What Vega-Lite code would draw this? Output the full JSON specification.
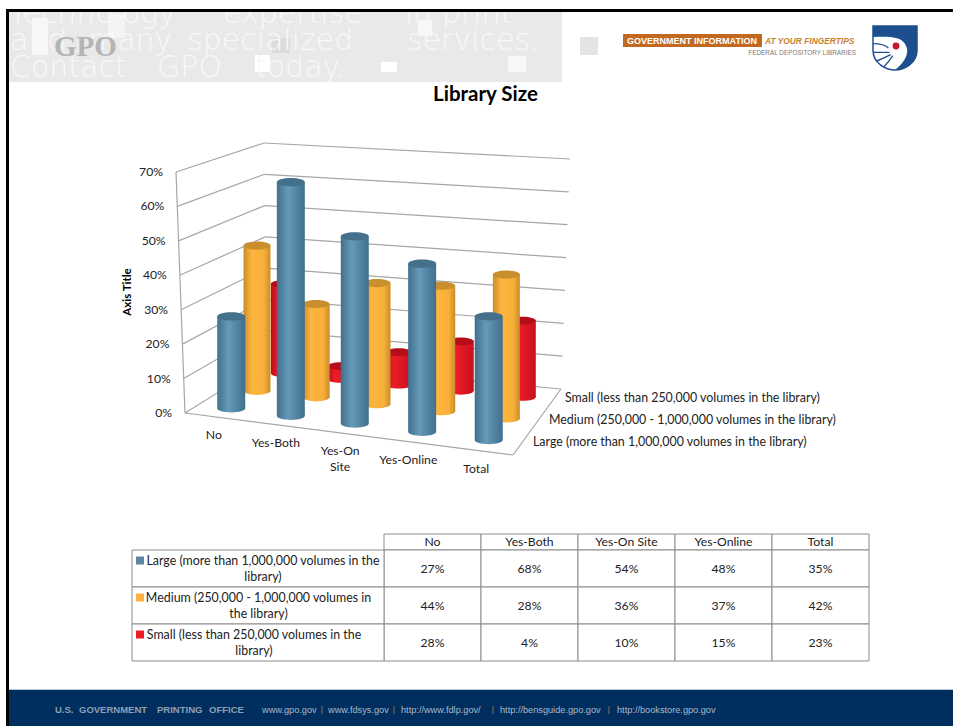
{
"$schema":"https://vega.github.io/schema/vega-lite/v6.json",
"width":953,"height":726,"padding":0,"autosize":{"type":"none"},"background":"white",
"config":{"view":{"stroke":null},"axis":{"disable":true},"legend":{"disable":true},"text":{"font":"Lato","fontSize":12.2,"fill":"#222222"}},
"title":{"text":"Library Size","font":"Lato","fontSize":20.5,"fontWeight":"bold","color":"#000000","anchor":"middle","frame":"group","dx":9,"dy":106,"offset":0},
"datasets":{
"bars":[
{"category":"No","series":"Large","value":0.27},{"category":"Yes-Both","series":"Large","value":0.68},{"category":"Yes-On Site","series":"Large","value":0.54},{"category":"Yes-Online","series":"Large","value":0.48},{"category":"Total","series":"Large","value":0.35},
{"category":"No","series":"Medium","value":0.44},{"category":"Yes-Both","series":"Medium","value":0.28},{"category":"Yes-On Site","series":"Medium","value":0.36},{"category":"Yes-Online","series":"Medium","value":0.37},{"category":"Total","series":"Medium","value":0.42},
{"category":"No","series":"Small","value":0.28},{"category":"Yes-Both","series":"Small","value":0.04},{"category":"Yes-On Site","series":"Small","value":0.10},{"category":"Yes-Online","series":"Small","value":0.15},{"category":"Total","series":"Small","value":0.23}],
"cats":[{"category":"No","label":"No"},{"category":"Yes-Both","label":"Yes-Both"},{"category":"Yes-On Site","label":"Yes-On\nSite"},{"category":"Yes-Online","label":"Yes-Online"},{"category":"Total","label":"Total"}],
"names":[{"series":"Large","name":"Large (more than 1,000,000 volumes in the library)","wrapped":"Large (more than 1,000,000 volumes in the\nlibrary)"},{"series":"Medium","name":"Medium (250,000 - 1,000,000 volumes in the library)","wrapped":"Medium (250,000 - 1,000,000 volumes in\nthe library)"},{"series":"Small","name":"Small (less than 250,000 volumes in the library)","wrapped":"Small (less than 250,000 volumes in the\nlibrary)"}],
"ticks":[{"tick":0},{"tick":0.1},{"tick":0.2},{"tick":0.3},{"tick":0.4},{"tick":0.5},{"tick":0.6},{"tick":0.7}]
},
"resolve":{"scale":{"x":"independent","y":"independent","color":"independent"}},
"layer":[
{"data":{"values":[{"item":"decor"}]},"layer":[
{"mark":{"type":"rect","fill":"#e9e9ea"},"encoding":{"x":{"datum":9,"type":"quantitative","scale":{"domain":[0,953],"nice":false,"zero":false}},"x2":{"datum":562},"y":{"datum":10,"type":"quantitative","scale":{"domain":[0,726],"reverse":true,"nice":false,"zero":false}},"y2":{"datum":82}}},
{"mark":{"type":"rect","fill":"#e4e4e5"},"encoding":{"x":{"datum":580,"type":"quantitative"},"x2":{"datum":598},"y":{"datum":37,"type":"quantitative"},"y2":{"datum":55}}},
{"mark":{"type":"rect","fill":"#f7f7f7"},"encoding":{"x":{"datum":32,"type":"quantitative"},"x2":{"datum":48},"y":{"datum":18,"type":"quantitative"},"y2":{"datum":55}}},
{"mark":{"type":"rect","fill":"#f4f4f4"},"encoding":{"x":{"datum":108,"type":"quantitative"},"x2":{"datum":125},"y":{"datum":14,"type":"quantitative"},"y2":{"datum":38}}},
{"mark":{"type":"rect","fill":"#dcdcdd"},"encoding":{"x":{"datum":272,"type":"quantitative"},"x2":{"datum":290},"y":{"datum":38,"type":"quantitative"},"y2":{"datum":53}}},
{"mark":{"type":"rect","fill":"#ffffff"},"encoding":{"x":{"datum":255,"type":"quantitative"},"x2":{"datum":270},"y":{"datum":55,"type":"quantitative"},"y2":{"datum":72}}},
{"mark":{"type":"rect","fill":"#ffffff"},"encoding":{"x":{"datum":381,"type":"quantitative"},"x2":{"datum":397},"y":{"datum":62,"type":"quantitative"},"y2":{"datum":72}}},
{"mark":{"type":"rect","fill":"#f7f7f7"},"encoding":{"x":{"datum":418,"type":"quantitative"},"x2":{"datum":432},"y":{"datum":20,"type":"quantitative"},"y2":{"datum":36}}},
{"mark":{"type":"rect","fill":"#f7f7f7"},"encoding":{"x":{"datum":508,"type":"quantitative"},"x2":{"datum":526},"y":{"datum":56,"type":"quantitative"},"y2":{"datum":72}}},
{"mark":{"type":"text","text":"Technology","font":"DejaVu Sans","fontSize":30,"fontWeight":200,"fill":"#f8f8f8","align":"left","baseline":"alphabetic"},"encoding":{"x":{"datum":9,"type":"quantitative"},"y":{"datum":23,"type":"quantitative"}}},
{"mark":{"type":"text","text":"expertise","font":"DejaVu Sans","fontSize":30,"fontWeight":200,"fill":"#f8f8f8","align":"left","baseline":"alphabetic"},"encoding":{"x":{"datum":223,"type":"quantitative"},"y":{"datum":23,"type":"quantitative"}}},
{"mark":{"type":"text","text":"in print","font":"DejaVu Sans","fontSize":30,"fontWeight":200,"fill":"#f8f8f8","align":"left","baseline":"alphabetic"},"encoding":{"x":{"datum":405,"type":"quantitative"},"y":{"datum":23,"type":"quantitative"}}},
{"mark":{"type":"text","text":"and","font":"DejaVu Sans","fontSize":30,"fontWeight":200,"fill":"#f8f8f8","align":"left","baseline":"alphabetic"},"encoding":{"x":{"datum":10,"type":"quantitative"},"y":{"datum":50,"type":"quantitative"}}},
{"mark":{"type":"text","text":"many","font":"DejaVu Sans","fontSize":30,"fontWeight":200,"fill":"#f8f8f8","align":"left","baseline":"alphabetic"},"encoding":{"x":{"datum":88,"type":"quantitative"},"y":{"datum":50,"type":"quantitative"}}},
{"mark":{"type":"text","text":"specialized","font":"DejaVu Sans","fontSize":30,"fontWeight":200,"fill":"#f8f8f8","align":"left","baseline":"alphabetic"},"encoding":{"x":{"datum":187,"type":"quantitative"},"y":{"datum":50,"type":"quantitative"}}},
{"mark":{"type":"text","text":"services.","font":"DejaVu Sans","fontSize":30,"fontWeight":200,"fill":"#f8f8f8","align":"left","baseline":"alphabetic"},"encoding":{"x":{"datum":407,"type":"quantitative"},"y":{"datum":50,"type":"quantitative"}}},
{"mark":{"type":"text","text":"Contact","font":"DejaVu Sans","fontSize":30,"fontWeight":200,"fill":"#f8f8f8","align":"left","baseline":"alphabetic"},"encoding":{"x":{"datum":10,"type":"quantitative"},"y":{"datum":77,"type":"quantitative"}}},
{"mark":{"type":"text","text":"GPO","font":"DejaVu Sans","fontSize":30,"fontWeight":200,"fill":"#f8f8f8","align":"left","baseline":"alphabetic"},"encoding":{"x":{"datum":157,"type":"quantitative"},"y":{"datum":77,"type":"quantitative"}}},
{"mark":{"type":"text","text":"today.","font":"DejaVu Sans","fontSize":30,"fontWeight":200,"fill":"#f8f8f8","align":"left","baseline":"alphabetic"},"encoding":{"x":{"datum":255,"type":"quantitative"},"y":{"datum":77,"type":"quantitative"}}},
{"mark":{"type":"rect","fill":"#ffffff"},"encoding":{"x":{"datum":0,"type":"quantitative"},"x2":{"datum":953},"y":{"datum":0,"type":"quantitative"},"y2":{"datum":9}}},
{"mark":{"type":"rect","fill":"#ffffff"},"encoding":{"x":{"datum":0,"type":"quantitative"},"x2":{"datum":6},"y":{"datum":0,"type":"quantitative"},"y2":{"datum":726}}},
{"mark":{"type":"rect","fill":"#000000"},"encoding":{"x":{"datum":6,"type":"quantitative"},"x2":{"datum":953},"y":{"datum":9,"type":"quantitative"},"y2":{"datum":12}}},
{"mark":{"type":"rect","fill":"#000000"},"encoding":{"x":{"datum":6,"type":"quantitative"},"x2":{"datum":9},"y":{"datum":9,"type":"quantitative"},"y2":{"datum":726}}},
{"mark":{"type":"rect","fill":"#002f5f"},"encoding":{"x":{"datum":9,"type":"quantitative"},"x2":{"datum":953},"y":{"datum":690,"type":"quantitative"},"y2":{"datum":726}}},
{"mark":{"type":"rect","fill":"#b9c6d4"},"encoding":{"x":{"datum":9,"type":"quantitative"},"x2":{"datum":953},"y":{"datum":689,"type":"quantitative"},"y2":{"datum":690}}},
{"mark":{"type":"text","text":"GPO","font":"Liberation Serif","fontSize":29,"fontWeight":"bold","fill":"#b3b4b6","align":"left","baseline":"middle"},"encoding":{"x":{"datum":54,"type":"quantitative"},"y":{"datum":47,"type":"quantitative"}}},
{"mark":{"type":"rect","fill":"#c2691f"},"encoding":{"x":{"datum":623,"type":"quantitative"},"x2":{"datum":762,"type":"quantitative"},"y":{"datum":34,"type":"quantitative"},"y2":{"datum":47}}},
{"mark":{"type":"text","text":"GOVERNMENT INFORMATION","font":"Liberation Sans","fontSize":9,"fontWeight":"bold","fill":"#ffffff","align":"center","baseline":"middle"},"encoding":{"x":{"datum":692,"type":"quantitative"},"y":{"datum":41,"type":"quantitative"}}},
{"mark":{"type":"text","text":"AT YOUR FINGERTIPS","font":"Liberation Sans","fontSize":8.4,"fontWeight":"bold","fontStyle":"italic","fill":"#c8802f","align":"left","baseline":"middle"},"encoding":{"x":{"datum":765,"type":"quantitative"},"y":{"datum":41,"type":"quantitative"}}},
{"mark":{"type":"text","text":"FEDERAL DEPOSITORY LIBRARIES","font":"Liberation Sans","fontSize":6.4,"fill":"#77787b","align":"right","baseline":"middle"},"encoding":{"x":{"datum":856,"type":"quantitative"},"y":{"datum":53,"type":"quantitative"}}},
{"mark":{"type":"point","shape":"M-1,-1L1,-1L1,0.1C1,0.7,0.4,1,0,1C-0.4,1,-1,0.7,-1,0.1Z","size":1936,"filled":true,"fill":"#ffffff","stroke":"#1d4f8f","strokeWidth":1.5,"opacity":1},"encoding":{"x":{"datum":895,"type":"quantitative"},"y":{"datum":48,"type":"quantitative"}}},
{"mark":{"type":"point","shape":"M-1,-1L1,-1L1,0.1C1,0.7,0.4,1,0,1C0.5,0.6,0.65,0.2,0.5,-0.1C0.35,-0.45,0,-0.55,-1,-0.5Z","size":1936,"filled":true,"fill":"#1d4f8f","opacity":1},"encoding":{"x":{"datum":895,"type":"quantitative"},"y":{"datum":48,"type":"quantitative"}}},
{"mark":{"type":"point","shape":"M-1,-0.2C-0.6,-0.2,-0.4,-0.1,-0.3,0M-1,0.2C-0.6,0.2,-0.4,0.2,-0.25,0.2M-0.85,0.6C-0.6,0.5,-0.4,0.4,-0.2,0.3M-0.5,0.85C-0.35,0.7,-0.2,0.5,-0.1,0.35","size":1936,"filled":false,"stroke":"#1d4f8f","strokeWidth":1.3,"opacity":1},"encoding":{"x":{"datum":895,"type":"quantitative"},"y":{"datum":48,"type":"quantitative"}}},
{"mark":{"type":"point","shape":"circle","size":70,"filled":true,"fill":"#c5162e","stroke":"#ffffff","strokeWidth":1.5,"opacity":1},"encoding":{"x":{"datum":896,"type":"quantitative"},"y":{"datum":46,"type":"quantitative"}}},
{"mark":{"type":"text","text":"U.S.","font":"Liberation Sans","fontSize":9.5,"fontWeight":"bold","fill":"#8ea0b5","align":"left","baseline":"middle"},"encoding":{"x":{"datum":55,"type":"quantitative"},"y":{"datum":710,"type":"quantitative"}}},
{"mark":{"type":"text","text":"GOVERNMENT","font":"Liberation Sans","fontSize":9.5,"fontWeight":"bold","fill":"#8ea0b5","align":"left","baseline":"middle"},"encoding":{"x":{"datum":79,"type":"quantitative"},"y":{"datum":710,"type":"quantitative"}}},
{"mark":{"type":"text","text":"PRINTING","font":"Liberation Sans","fontSize":9.5,"fontWeight":"bold","fill":"#8ea0b5","align":"left","baseline":"middle"},"encoding":{"x":{"datum":157,"type":"quantitative"},"y":{"datum":710,"type":"quantitative"}}},
{"mark":{"type":"text","text":"OFFICE","font":"Liberation Sans","fontSize":9.5,"fontWeight":"bold","fill":"#8ea0b5","align":"left","baseline":"middle"},"encoding":{"x":{"datum":209,"type":"quantitative"},"y":{"datum":710,"type":"quantitative"}}},
{"mark":{"type":"text","text":"www.gpo.gov","font":"Liberation Sans","fontSize":9.2,"fill":"#a9b8c8","align":"left","baseline":"middle"},"encoding":{"x":{"datum":262,"type":"quantitative"},"y":{"datum":710,"type":"quantitative"}}},
{"mark":{"type":"text","text":"www.fdsys.gov","font":"Liberation Sans","fontSize":9.2,"fill":"#a9b8c8","align":"left","baseline":"middle"},"encoding":{"x":{"datum":328,"type":"quantitative"},"y":{"datum":710,"type":"quantitative"}}},
{"mark":{"type":"text","text":"http://www.fdlp.gov/","font":"Liberation Sans","fontSize":9.2,"fill":"#a9b8c8","align":"left","baseline":"middle"},"encoding":{"x":{"datum":401,"type":"quantitative"},"y":{"datum":710,"type":"quantitative"}}},
{"mark":{"type":"text","text":"http://bensguide.gpo.gov","font":"Liberation Sans","fontSize":9.2,"fill":"#a9b8c8","align":"left","baseline":"middle"},"encoding":{"x":{"datum":500,"type":"quantitative"},"y":{"datum":710,"type":"quantitative"}}},
{"mark":{"type":"text","text":"http://bookstore.gpo.gov","font":"Liberation Sans","fontSize":9.2,"fill":"#a9b8c8","align":"left","baseline":"middle"},"encoding":{"x":{"datum":617,"type":"quantitative"},"y":{"datum":710,"type":"quantitative"}}},
{"mark":{"type":"rule","stroke":"#8a6a50","strokeWidth":1},"encoding":{"x":{"datum":322,"type":"quantitative"},"y":{"datum":706,"type":"quantitative"},"y2":{"datum":714}}},
{"mark":{"type":"rule","stroke":"#8a6a50","strokeWidth":1},"encoding":{"x":{"datum":394,"type":"quantitative"},"y":{"datum":706,"type":"quantitative"},"y2":{"datum":714}}},
{"mark":{"type":"rule","stroke":"#8a6a50","strokeWidth":1},"encoding":{"x":{"datum":493,"type":"quantitative"},"y":{"datum":706,"type":"quantitative"},"y2":{"datum":714}}},
{"mark":{"type":"rule","stroke":"#8a6a50","strokeWidth":1},"encoding":{"x":{"datum":609,"type":"quantitative"},"y":{"datum":706,"type":"quantitative"},"y2":{"datum":714}}},
{"mark":{"type":"text","text":"Axis Title","font":"Lato","fontSize":11.5,"fontWeight":"bold","fill":"#000000","angle":270,"align":"center","baseline":"middle"},"encoding":{"x":{"datum":128,"type":"quantitative"},"y":{"datum":292,"type":"quantitative"}}}
]},
{"data":{"name":"ticks"},
"transform":[
{"calculate":"datum.tick/0.7","as":"t"},
{"calculate":"lerp([185,176],datum.t)","as":"flx"},{"calculate":"lerp([413,172],datum.t)","as":"fly"},
{"calculate":"lerp([267,264],datum.t)","as":"blx"},{"calculate":"lerp([362,143],datum.t)","as":"bly"},
{"calculate":"lerp([561,570],datum.t)","as":"brx"},{"calculate":"lerp([389,159],datum.t)","as":"bry"},
{"calculate":"lerp([513,518],datum.t)","as":"frx"},{"calculate":"lerp([455,203],datum.t)","as":"fry"}],
"layer":[
{"mark":{"type":"rule","stroke":"#a6a6a6","strokeWidth":1.2},"encoding":{"x":{"field":"flx","type":"quantitative","scale":{"domain":[0,953],"nice":false,"zero":false}},"y":{"field":"fly","type":"quantitative","scale":{"domain":[0,726],"reverse":true,"nice":false,"zero":false}},"x2":{"field":"blx"},"y2":{"field":"bly"}}},
{"mark":{"type":"rule","stroke":"#a6a6a6","strokeWidth":1.2},"encoding":{"x":{"field":"blx","type":"quantitative"},"y":{"field":"bly","type":"quantitative"},"x2":{"field":"brx"},"y2":{"field":"bry"}}},
{"mark":{"type":"line","stroke":"#a6a6a6","strokeWidth":1.2},"encoding":{"x":{"field":"flx","type":"quantitative"},"y":{"field":"fly","type":"quantitative"},"order":{"field":"tick"}}},
{"transform":[{"filter":"datum.tick==0"}],"mark":{"type":"rule","stroke":"#a6a6a6","strokeWidth":1.2},"encoding":{"x":{"field":"flx","type":"quantitative"},"y":{"field":"fly","type":"quantitative"},"x2":{"field":"frx"},"y2":{"field":"fry"}}},
{"transform":[{"filter":"datum.tick==0"}],"mark":{"type":"rule","stroke":"#a6a6a6","strokeWidth":1.2},"encoding":{"x":{"field":"frx","type":"quantitative"},"y":{"field":"fry","type":"quantitative"},"x2":{"field":"brx"},"y2":{"field":"bry"}}},
{"mark":{"type":"text","align":"right","baseline":"middle","dx":-13},"encoding":{"x":{"field":"flx","type":"quantitative"},"y":{"field":"fly","type":"quantitative"},"text":{"field":"tick","type":"quantitative","format":".0%"}}}
]},
{"data":{"name":"cats"},
"transform":[{"calculate":"[0.097,0.286,0.482,0.69,0.897][indexof(['No','Yes-Both','Yes-On Site','Yes-Online','Total'],datum.category)]","as":"c"},{"calculate":"lerp([185,513],datum.c)","as":"lx"},{"calculate":"lerp([413,455],datum.c)","as":"ly"}],
"mark":{"type":"text","align":"center","baseline":"top","lineBreak":"\n","lineHeight":16,"dx":-3,"dy":12},
"encoding":{"x":{"field":"lx","type":"quantitative","scale":{"domain":[0,953],"nice":false,"zero":false}},"y":{"field":"ly","type":"quantitative","scale":{"domain":[0,726],"reverse":true,"nice":false,"zero":false}},"text":{"field":"label"}}},
{"data":{"name":"names"},
"transform":[{"calculate":"indexof(['Large','Medium','Small'],datum.series)/3+1/6","as":"d"},{"calculate":"lerp([513,561],datum.d)","as":"lx"},{"calculate":"lerp([455,389],datum.d)","as":"ly"}],
"mark":{"type":"text","align":"left","baseline":"middle","dx":12,"dy":-2,"fontSize":12.4},
"encoding":{"x":{"field":"lx","type":"quantitative","scale":{"domain":[0,953],"nice":false,"zero":false}},"y":{"field":"ly","type":"quantitative","scale":{"domain":[0,726],"reverse":true,"nice":false,"zero":false}},"text":{"field":"name"}}},
{"data":{"name":"bars"},
"transform":[
{"calculate":"[0.097,0.286,0.482,0.69,0.897][indexof(['No','Yes-Both','Yes-On Site','Yes-Online','Total'],datum.category)]","as":"c"},
{"calculate":"indexof(['Large','Medium','Small'],datum.series)/3+1/6","as":"d"},
{"calculate":"lerp([lerp([185,513],datum.c),lerp([267,561],datum.c)],datum.d)","as":"xb"},
{"calculate":"lerp([lerp([176,518],datum.c),lerp([264,570],datum.c)],datum.d)","as":"xt"},
{"calculate":"lerp([lerp([413,455],datum.c),lerp([362,389],datum.c)],datum.d)","as":"yb"},
{"calculate":"lerp([lerp([172,203],datum.c),lerp([143,159],datum.c)],datum.d)","as":"yt"},
{"calculate":"lerp([datum.yb,datum.yt],datum.value/0.7)","as":"ytop"},
{"calculate":"lerp([datum.xb,datum.xt],datum.value/1.4)","as":"xmid"}],
"encoding":{"x":{"field":"xmid","type":"quantitative","scale":{"domain":[0,953],"nice":false,"zero":false}}},
"layer":[
{"transform":[{"filter":"datum.series=='Small'"}],"mark":{"type":"point","shape":"M-1,0A1,0.3,0,1,0,1,0A1,0.3,0,1,0,-1,0Z","size":676,"filled":true,"opacity":1,"fill":{"gradient":"linear","x1":0,"y1":0,"x2":1,"y2":0,"stops":[{"offset":0,"color":"#b80f1b"},{"offset":0.3,"color":"#ee1c27"},{"offset":1,"color":"#c5121e"}]}},"encoding":{"y":{"field":"yb","type":"quantitative","scale":{"domain":[0,726],"reverse":true,"nice":false,"zero":false}}}},
{"transform":[{"filter":"datum.series=='Small'"}],"mark":{"type":"bar","size":26,"fill":{"gradient":"linear","x1":0,"y1":0,"x2":1,"y2":0,"stops":[{"offset":0,"color":"#b80f1b"},{"offset":0.3,"color":"#ee1c27"},{"offset":1,"color":"#c5121e"}]}},"encoding":{"y":{"field":"ytop","type":"quantitative"},"y2":{"field":"yb"}}},
{"transform":[{"filter":"datum.series=='Small'"}],"mark":{"type":"point","shape":"M-1,0A1,0.3,0,1,0,1,0A1,0.3,0,1,0,-1,0Z","size":676,"filled":true,"opacity":1,"fill":"#b40e1a"},"encoding":{"y":{"field":"ytop","type":"quantitative"}}},
{"transform":[{"filter":"datum.series=='Medium'"}],"mark":{"type":"point","shape":"M-1,0A1,0.3,0,1,0,1,0A1,0.3,0,1,0,-1,0Z","size":729,"filled":true,"opacity":1,"fill":{"gradient":"linear","x1":0,"y1":0,"x2":1,"y2":0,"stops":[{"offset":0,"color":"#c98c2a"},{"offset":0.3,"color":"#fdb53e"},{"offset":0.75,"color":"#f9b03a"},{"offset":1,"color":"#c98c2a"}]}},"encoding":{"y":{"field":"yb","type":"quantitative"}}},
{"transform":[{"filter":"datum.series=='Medium'"}],"mark":{"type":"bar","size":27,"fill":{"gradient":"linear","x1":0,"y1":0,"x2":1,"y2":0,"stops":[{"offset":0,"color":"#c98c2a"},{"offset":0.3,"color":"#fdb53e"},{"offset":0.75,"color":"#f9b03a"},{"offset":1,"color":"#c98c2a"}]}},"encoding":{"y":{"field":"ytop","type":"quantitative"},"y2":{"field":"yb"}}},
{"transform":[{"filter":"datum.series=='Medium'"}],"mark":{"type":"point","shape":"M-1,0A1,0.3,0,1,0,1,0A1,0.3,0,1,0,-1,0Z","size":729,"filled":true,"opacity":1,"fill":"#c98f2c"},"encoding":{"y":{"field":"ytop","type":"quantitative"}}},
{"transform":[{"filter":"datum.series=='Large'"}],"mark":{"type":"point","shape":"M-1,0A1,0.3,0,1,0,1,0A1,0.3,0,1,0,-1,0Z","size":784,"filled":true,"opacity":1,"fill":{"gradient":"linear","x1":0,"y1":0,"x2":1,"y2":0,"stops":[{"offset":0,"color":"#41708d"},{"offset":0.4,"color":"#659ab9"},{"offset":1,"color":"#41708d"}]}},"encoding":{"y":{"field":"yb","type":"quantitative"}}},
{"transform":[{"filter":"datum.series=='Large'"}],"mark":{"type":"bar","size":28,"fill":{"gradient":"linear","x1":0,"y1":0,"x2":1,"y2":0,"stops":[{"offset":0,"color":"#41708d"},{"offset":0.4,"color":"#659ab9"},{"offset":1,"color":"#41708d"}]}},"encoding":{"y":{"field":"ytop","type":"quantitative"},"y2":{"field":"yb"}}},
{"transform":[{"filter":"datum.series=='Large'"}],"mark":{"type":"point","shape":"M-1,0A1,0.3,0,1,0,1,0A1,0.3,0,1,0,-1,0Z","size":784,"filled":true,"opacity":1,"fill":"#44708b"},"encoding":{"y":{"field":"ytop","type":"quantitative"}}}
]},
{"data":{"name":"cats"},"mark":{"type":"rect","fill":"#ffffff","stroke":"#8c8c8c","strokeWidth":1},
"encoding":{"x":{"field":"category","type":"nominal","scale":{"domain":["No","Yes-Both","Yes-On Site","Yes-Online","Total"],"range":[384,869],"paddingInner":0,"paddingOuter":0}},"y":{"datum":534,"type":"quantitative","scale":{"domain":[0,726],"reverse":true,"nice":false,"zero":false}},"y2":{"datum":550}}},
{"data":{"name":"cats"},"mark":{"type":"text","align":"center","baseline":"middle"},
"encoding":{"x":{"field":"category","type":"nominal","scale":{"type":"band","domain":["No","Yes-Both","Yes-On Site","Yes-Online","Total"],"range":[384,869],"paddingInner":0,"paddingOuter":0}},"y":{"datum":542,"type":"quantitative","scale":{"domain":[0,726],"reverse":true,"nice":false,"zero":false}},"text":{"field":"category"}}},
{"data":{"name":"bars"},"mark":{"type":"rect","fill":"#ffffff","stroke":"#8c8c8c","strokeWidth":1},
"encoding":{"x":{"field":"category","type":"nominal","scale":{"domain":["No","Yes-Both","Yes-On Site","Yes-Online","Total"],"range":[384,869],"paddingInner":0,"paddingOuter":0}},"y":{"field":"series","type":"nominal","scale":{"domain":["Large","Medium","Small"],"range":[550,661],"paddingInner":0,"paddingOuter":0}}}},
{"data":{"name":"bars"},"mark":{"type":"text","align":"center","baseline":"middle"},
"encoding":{"x":{"field":"category","type":"nominal","scale":{"type":"band","domain":["No","Yes-Both","Yes-On Site","Yes-Online","Total"],"range":[384,869],"paddingInner":0,"paddingOuter":0}},"y":{"field":"series","type":"nominal","scale":{"type":"band","domain":["Large","Medium","Small"],"range":[550,661],"paddingInner":0,"paddingOuter":0}},"text":{"field":"value","type":"quantitative","format":".0%"}}},
{"data":{"name":"names"},"mark":{"type":"rect","fill":"#ffffff","stroke":"#8c8c8c","strokeWidth":1},
"encoding":{"x":{"datum":132,"type":"quantitative","scale":{"domain":[0,953],"nice":false,"zero":false}},"x2":{"datum":384},"y":{"field":"series","type":"nominal","scale":{"domain":["Large","Medium","Small"],"range":[550,661],"paddingInner":0,"paddingOuter":0}}}},
{"data":{"name":"names"},"mark":{"type":"text","align":"center","baseline":"middle","lineBreak":"\n","lineHeight":16,"dy":-8,"fontSize":12.4},
"encoding":{"x":{"field":"series","type":"nominal","scale":{"type":"point","domain":["Small","Medium","Large"],"range":[254,263],"padding":0}},"y":{"field":"series","type":"nominal","scale":{"type":"band","domain":["Large","Medium","Small"],"range":[550,661],"paddingInner":0,"paddingOuter":0}},"text":{"field":"wrapped"}}},
{"data":{"name":"names"},"mark":{"type":"point","shape":"square","size":64,"filled":true,"opacity":1,"yOffset":-8},
"encoding":{"x":{"datum":140,"type":"quantitative","scale":{"domain":[0,953],"nice":false,"zero":false}},"y":{"field":"series","type":"nominal","scale":{"type":"band","domain":["Large","Medium","Small"],"range":[550,661],"paddingInner":0,"paddingOuter":0}},"color":{"field":"series","type":"nominal","scale":{"domain":["Large","Medium","Small"],"range":["#5b87a3","#fbb040","#ed1c24"]},"legend":null}}}
]
}
